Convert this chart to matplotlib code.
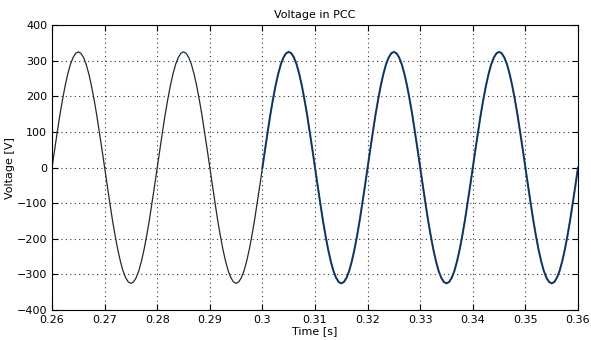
import numpy as np
import matplotlib.pyplot as plt

# time axis: samples every 0.5 ms from 0.26 s to 0.36 s
t_start = 0.26
t_step = 0.0005

# one 20 ms cycle of the PCC voltage (40 samples)
cycle = [0, 51, 100, 148, 191, 230, 263, 290, 309, 321,
         325, 321, 309, 290, 263, 230, 191, 148, 100, 51,
         0, -51, -100, -148, -191, -230, -263, -290, -309, -321,
         -325, -321, -309, -290, -263, -230, -191, -148, -100, -51]

voltage_ref = cycle * 5 + [0]
voltage_meas = (cycle * 3 + [0])  # measured trace shown from 0.30 s

time_ref = t_start + t_step * np.arange(len(voltage_ref))
time_meas = 0.30 + t_step * np.arange(len(voltage_meas))

xticks = [0.26, 0.27, 0.28, 0.29, 0.3, 0.31, 0.32, 0.33, 0.34, 0.35, 0.36]
xticklabels = ["0.26", "0.27", "0.28", "0.29", "0.3", "0.31", "0.32", "0.33", "0.34", "0.35", "0.36"]
yticks = [-400, -300, -200, -100, 0, 100, 200, 300, 400]

fig = plt.figure(figsize=(5.91, 3.40), dpi=100)
ax = fig.add_axes([0.088, 0.088, 0.89, 0.838])

ax.plot(time_meas, voltage_meas, color="#2466b0", lw=1.5)
ax.plot(time_ref, voltage_ref, color="#1c2a3a", lw=0.9)

ax.set_xlim(0.26, 0.36)
ax.set_ylim(-400, 400)
ax.set_xticks(xticks)
ax.set_xticklabels(xticklabels)
ax.set_yticks(yticks)
ax.grid(True, linestyle=(0, (1, 3)), color="#333333", lw=0.8)
ax.tick_params(direction="in", top=True, right=True, labelsize=8, length=4)
for s in ax.spines.values():
    s.set_linewidth(0.8)

ax.set_title("Voltage in PCC", fontsize=8, pad=5)
ax.set_xlabel("Time [s]", fontsize=8, labelpad=1)
ax.set_ylabel("Voltage [V]", fontsize=8, labelpad=1)

fig.savefig("out.png", dpi=100)
